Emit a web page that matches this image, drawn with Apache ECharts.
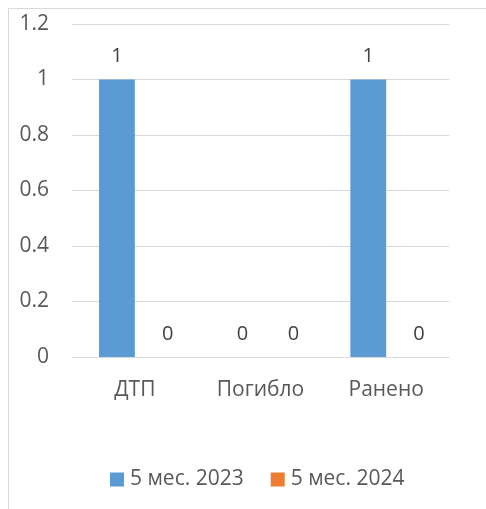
<!DOCTYPE html>
<html>
<head>
<meta charset="utf-8">
<script src="https://cdn.jsdelivr.net/npm/echarts@6/dist/echarts.min.js"></script>
<style>html,body{margin:0;padding:0;background:#fff;}#c{width:486px;height:509px;}</style>
</head>
<body>
<div id="c"></div>
<script>
const categories = ['ДТП', 'Погибло', 'Ранено'];
const seriesNames = ['5 мес. 2023', '5 мес. 2024'];
const values2023 = [1, 0, 1];
const values2024 = [0, 0, 0];
const yTicks = [0, 0.2, 0.4, 0.6, 0.8, 1, 1.2];

const font = '"Open Sans", "Noto Sans", sans-serif';
const chart = echarts.init(document.getElementById('c'), null, {renderer: 'canvas'});
const labelStyle = {show: true, position: 'top', distance: 13, color: '#404040', fontSize: 20, fontFamily: font};
chart.setOption({
  animation: false,
  graphic: [{type: 'rect', shape: {x: 8.5, y: 8.5, width: 600, height: 600}, style: {fill: 'none', stroke: '#d9d9d9', lineWidth: 1}, silent: true, z: -1}],
  grid: {left: 72, right: 37, top: 24, bottom: 152, containLabel: false},
  legend: {
    data: seriesNames, bottom: 14, left: 105, itemWidth: 14, itemHeight: 14, itemGap: 27,
    icon: 'rect',
    textStyle: {color: '#595959', fontSize: 21, fontFamily: font, padding: [0, 0, 0, 1]}
  },
  xAxis: {
    type: 'category', data: categories,
    axisLine: {show: true, lineStyle: {color: '#d9d9d9'}},
    axisTick: {show: false},
    axisLabel: {color: '#595959', fontSize: 21, fontFamily: font, margin: 23}
  },
  yAxis: {
    type: 'value', min: yTicks[0], max: yTicks[yTicks.length - 1], interval: 0.2,
    axisLine: {show: false}, axisTick: {show: false},
    splitLine: {lineStyle: {color: '#d9d9d9'}},
    axisLabel: {color: '#595959', fontSize: 21, fontFamily: font, margin: 23,
      formatter: v => String(Math.round(v * 10) / 10)}
  },
  series: [
    {name: seriesNames[0], type: 'bar', data: values2023, itemStyle: {color: '#5b9bd5'}, barGap: '0%', barCategoryGap: '43%', label: labelStyle},
    {name: seriesNames[1], type: 'bar', data: values2024, itemStyle: {color: '#ed7d31'}, label: Object.assign({}, labelStyle, {offset: [15, 0]})}
  ]
});
</script>
</body>
</html>
